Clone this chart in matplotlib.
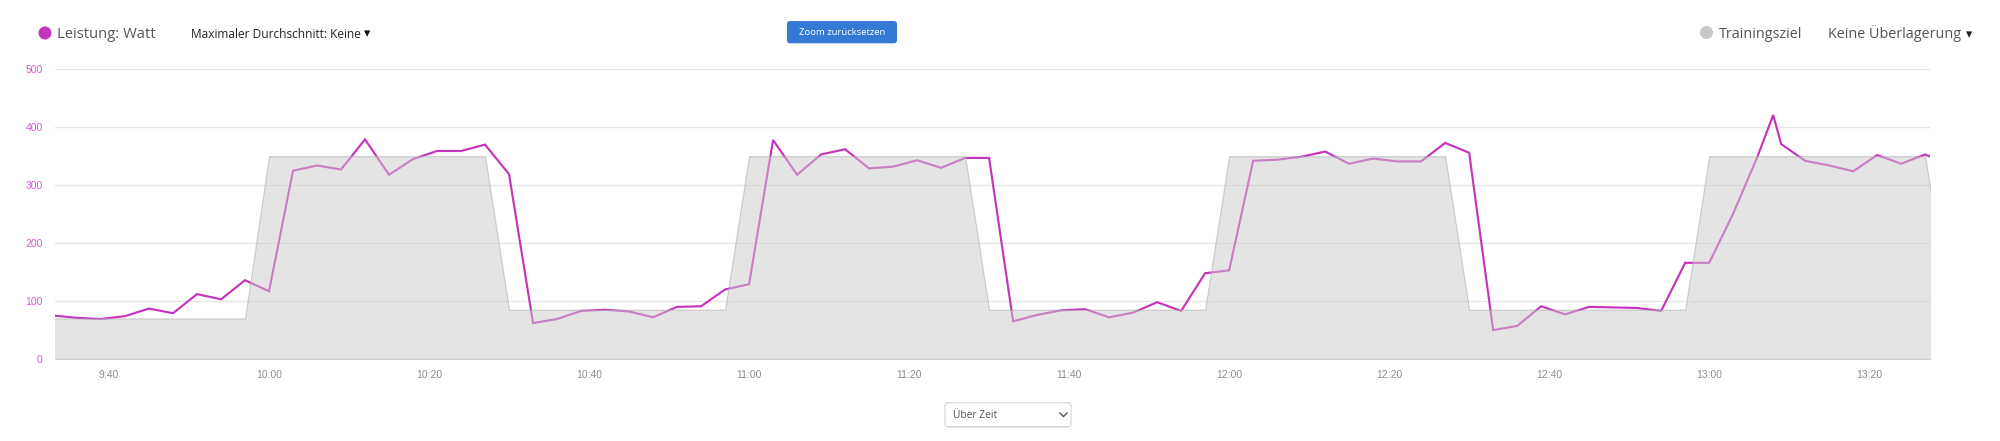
import matplotlib
matplotlib.use("Agg")
import matplotlib.pyplot as plt
from matplotlib.patches import Ellipse, FancyBboxPatch
from matplotlib.lines import Line2D

# power samples (clock time, watts)
power_times = ["9:33", "9:36", "9:39", "9:42", "9:45", "9:48", "9:51", "9:54", "9:57",
               "10:00", "10:03", "10:06", "10:09", "10:12", "10:15", "10:18", "10:21", "10:24", "10:27",
               "10:30", "10:33", "10:36", "10:39", "10:42", "10:45", "10:48", "10:51", "10:54", "10:57",
               "11:00", "11:03", "11:06", "11:09", "11:12", "11:15", "11:18", "11:21", "11:24", "11:27",
               "11:30", "11:33", "11:36", "11:39", "11:42", "11:45", "11:48", "11:51", "11:54", "11:57",
               "12:00", "12:03", "12:06", "12:09", "12:12", "12:15", "12:18", "12:21", "12:24", "12:27",
               "12:30", "12:33", "12:36", "12:39", "12:42", "12:45", "12:48", "12:51", "12:54", "12:57",
               "13:00", "13:03", "13:06", "13:08", "13:09", "13:12", "13:15", "13:18", "13:21", "13:24",
               "13:27", "13:30"]
power_watts = [75, 71, 69, 74, 87, 79, 112, 103, 136,
               117, 325, 334, 327, 379, 318, 345, 359, 359, 370,
               319, 62, 69, 83, 85, 82, 72, 90, 91, 120,
               129, 378, 318, 353, 362, 329, 332, 343, 330, 347,
               347, 65, 76, 84, 86, 72, 80, 98, 83, 148,
               153, 342, 344, 349, 358, 337, 346, 341, 341, 373,
               356, 50, 57, 91, 77, 90, 89, 88, 83, 166,
               166, 251, 348, 421, 371, 342, 334, 324, 352, 337,
               353, 335]

# training target corners (clock time, watts)
target_times = ["9:33", "9:57", "10:00", "10:27", "10:30", "10:57", "11:00", "11:27", "11:30",
                "11:57", "12:00", "12:27", "12:30", "12:57", "13:00", "13:27", "13:30"]
target_watts = [70, 70, 350, 350, 85, 85, 350, 350, 85,
                85, 350, 350, 85, 85, 350, 350, 85]

x_ticks = ["9:40", "10:00", "10:20", "10:40", "11:00", "11:20", "11:40",
           "12:00", "12:20", "12:40", "13:00", "13:20"]
y_ticks = [0, 100, 200, 300, 400, 500]


def to_min(s):
    h, m = s.split(":")
    return int(h) * 60 + int(m)


W, H = 2000, 441
MAGENTA = "#c634bd"


def fx(x):
    return x / W


def fy(y):
    return 1 - y / H


fig = plt.figure(figsize=(W / 100, H / 100), dpi=100)
ax = fig.add_axes([fx(55), fy(359), (1930 - 55) / W, (359 - 69.3) / H])

pt = [to_min(s) for s in power_times]
tt = [to_min(s) for s in target_times]

ax.plot(pt, power_watts, color=MAGENTA, lw=1.55, zorder=2, solid_joinstyle="miter")
ax.fill_between(tt, 0, target_watts, facecolor="#cbcbcb", edgecolor="#a8a8a8",
                lw=0.9, alpha=0.5, zorder=3)

ax.set_xlim(573.25, 807.6)
ax.set_ylim(0, 500)
ax.set_yticks(y_ticks)
ax.set_xticks([to_min(s) for s in x_ticks])
ax.set_xticklabels(x_ticks)
ax.grid(axis="y", color="#e6e6e6", lw=1, zorder=1)
ax.set_axisbelow(True)
for s in ax.spines.values():
    s.set_visible(False)
ax.tick_params(axis="y", length=0, pad=9, labelsize=7.5, labelcolor="#cf5bcb")
ax.tick_params(axis="x", length=0, pad=8, labelsize=7.5, labelcolor="#8c8c8c")
for lab in ax.get_xticklabels() + ax.get_yticklabels():
    lab.set_family("Liberation Sans")

head = ["Open Sans", "DejaVu Sans"]

# legend / header
fig.add_artist(Ellipse((fx(45), fy(33)), 13 / W, 13 / H, transform=fig.transFigure,
                       color=MAGENTA, lw=0))
fig.text(fx(57), fy(38.5), "Leistung: Watt", family=head, size=10.6,
         color="#555555", va="baseline")
fig.text(fx(191), fy(37.5), "Maximaler Durchschnitt: Keine", family=head, size=8.6,
         color="#222222", va="baseline")
fig.text(fx(364), fy(37.5), "\u25be", family="DejaVu Sans", size=9,
         color="#111111", va="baseline")

btn = FancyBboxPatch((fx(787), fy(43.3)), 110 / W, 22.3 / H, transform=fig.transFigure,
                     boxstyle="round,pad=0,rounding_size=0.0016",
                     mutation_aspect=W / H, facecolor="#3479d3", edgecolor="none")
fig.add_artist(btn)
fig.text(fx(842), fy(32.5), "Zoom zurücksetzen", family=head, size=6.8,
         color="white", ha="center", va="center")

fig.add_artist(Ellipse((fx(1706.5), fy(32.5)), 13 / W, 13 / H, transform=fig.transFigure,
                       color="#c8c8c8", lw=0))
fig.text(fx(1719), fy(38), "Trainingsziel", family=head, size=10.4,
         color="#555555", va="baseline")
fig.text(fx(1828), fy(38), "Keine Überlagerung", family=head, size=10.4,
         color="#555555", va="baseline")
fig.text(fx(1966), fy(38), "\u25be", family="DejaVu Sans", size=9,
         color="#222222", va="baseline")

# bottom dropdown
shadow = FancyBboxPatch((fx(945), fy(427.8)), 126 / W, 24 / H, transform=fig.transFigure,
                        boxstyle="round,pad=0,rounding_size=0.0015",
                        mutation_aspect=W / H, facecolor="#ececec", edgecolor="none")
fig.add_artist(shadow)
box = FancyBboxPatch((fx(945), fy(426.7)), 126 / W, 24 / H, transform=fig.transFigure,
                     boxstyle="round,pad=0,rounding_size=0.0015",
                     mutation_aspect=W / H, facecolor="white", edgecolor="#d4d4d4", lw=0.8)
fig.add_artist(box)
fig.text(fx(953), fy(415), "Über Zeit", family=head, size=7.4,
         color="#555555", va="center")
fig.add_artist(Line2D([fx(1060), fx(1063.5), fx(1067)], [fy(413), fy(416.5), fy(413)],
                      transform=fig.transFigure, color="#555555", lw=1))

fig.savefig("out.png", dpi=100)
